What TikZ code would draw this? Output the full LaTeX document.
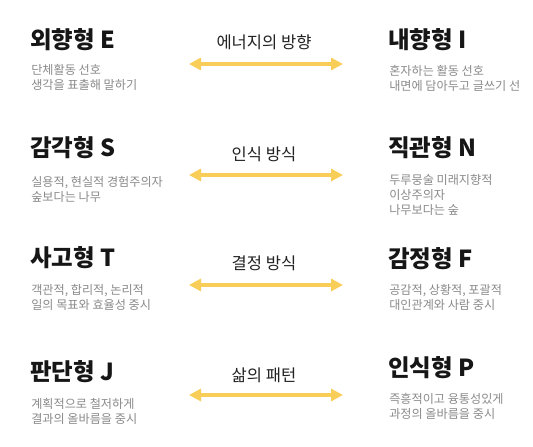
\documentclass[tikz,border=0pt]{standalone}
\usepackage{fontspec}
\setmainfont{Noto Sans CJK KR}
\usetikzlibrary{arrows.meta}
\definecolor{arrowy}{HTML}{F9CE58}
\definecolor{titlec}{HTML}{161616}
\definecolor{subc}{HTML}{8A8A8A}
\definecolor{labc}{HTML}{222222}
\tikzset{
  ttl/.style={anchor=west, inner sep=0pt, font=\fontsize{17.6}{20}\selectfont\bfseries, text=titlec},
  sub/.style={anchor=north west, inner sep=0pt, align=left, font=\fontsize{9.1}{11.4}\selectfont, text=subc},
  lab/.style={inner sep=0pt, font=\fontsize{12.4}{14}\selectfont, text=labc},
  dual/.style={line width=3pt, draw=arrowy, {Triangle[length=9pt,width=9pt]}-{Triangle[length=9pt,width=9pt]}}
}
\begin{document}
\begin{tikzpicture}[x=0.75pt,y=-0.75pt]
\useasboundingbox[fill=white] (0,0) rectangle (533,447);

% Row 1
\node[ttl] (e) at (30,40) {외향형 E};
\node[sub] (es) at (31,64) {단체활동 선호\\생각을 표출해 말하기};
\node[ttl] (i) at (388,40) {내향형 I};
\node[sub] (is) at (389,65) {혼자하는 활동 선호\\내면에 담아두고 글쓰기 선};
\node[lab] (l1) at (264,42) {에너지의 방향};
\coordinate (a1l) at (189,64);
\coordinate (a1r) at (343,64);
\draw[dual] (a1l) -- (a1r);

% Row 2
\node[ttl] (s) at (30,148) {감각형 S};
\node[sub] (ss) at (31,176) {실용적, 현실적 경험주의자\\숲보다는 나무};
\node[ttl] (n) at (388,148) {직관형 N};
\node[sub] (ns) at (389,174) {두루뭉술 미래지향적\\이상주의자\\나무보다는 숲};
\node[lab] (l2) at (264,154) {인식 방식};
\coordinate (a2l) at (189,175);
\coordinate (a2r) at (343,175);
\draw[dual] (a2l) -- (a2r);

% Row 3
\node[ttl] (t) at (30,258) {사고형 T};
\node[sub] (ts) at (31,284) {객관적, 합리적, 논리적\\일의 목표와 효율성 중시};
\node[ttl] (f) at (388,259) {감정형 F};
\node[sub] (fs) at (389,284) {공감적, 상황적, 포괄적\\대인관계와 사람 중시};
\node[lab] (l3) at (264,263) {결정 방식};
\coordinate (a3l) at (189,285);
\coordinate (a3r) at (343,285);
\draw[dual] (a3l) -- (a3r);

% Row 4
\node[ttl] (j) at (30,372) {판단형 J};
\node[sub] (js) at (31,398) {계획적으로 철저하게\\결과의 올바름을 중시};
\node[ttl] (p) at (388,368) {인식형 P};
\node[sub] (ps) at (389,393) {즉흥적이고 융통성있게\\과정의 올바름을 중시};
\node[lab] (l4) at (264,375) {삶의 패턴};
\coordinate (a4l) at (189,395);
\coordinate (a4r) at (343,395);
\draw[dual] (a4l) -- (a4r);
\end{tikzpicture}
\end{document}
